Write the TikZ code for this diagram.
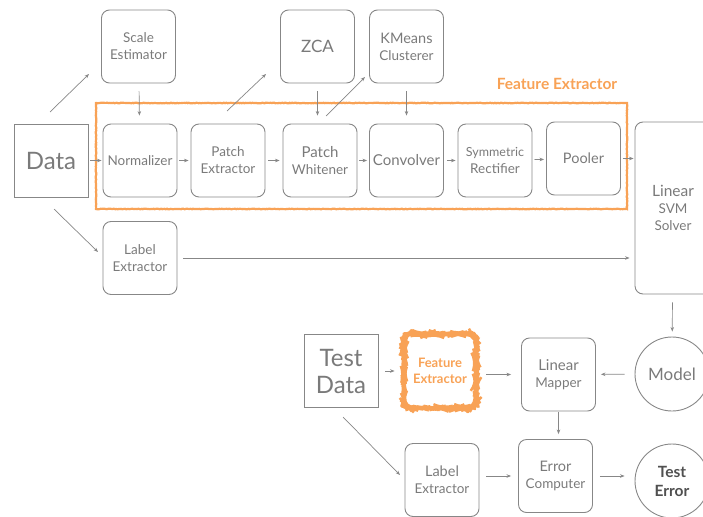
\documentclass[tikz,border=0pt]{standalone}
\usepackage{fontspec}
\setmainfont{Lato}
\usetikzlibrary{arrows.meta,decorations.pathmorphing}
\definecolor{boxline}{RGB}{135,135,135}
\definecolor{boxtext}{RGB}{122,122,122}
\definecolor{fxorange}{RGB}{248,162,86}
\tikzset{
  stage/.style={draw=boxline, line width=0.9pt, rounded corners=8pt, minimum width=74pt,
    minimum height=73pt, align=center, text=boxtext, font=\fontsize{13.5}{17}\selectfont, inner sep=1pt},
  source/.style={draw=boxline, line width=0.9pt, minimum width=74pt, minimum height=73pt,
    align=center, text=boxtext, font=\fontsize{24}{27}\selectfont, inner sep=1pt},
  result/.style={draw=boxline, line width=0.9pt, circle, minimum size=74pt, align=center,
    text=boxtext, font=\fontsize{17}{20}\selectfont, inner sep=1pt},
  flow/.style={draw=boxline, line width=0.7pt, -{Stealth[length=4.5pt,width=3.5pt]}},
  rough/.style={draw=fxorange, line width=2.2pt, decorate,
    decoration={random steps, segment length=1.2pt, amplitude=0.3pt}},
}
\pgfmathsetseed{7}
\begin{document}
\begin{tikzpicture}[x=1pt,y=-1pt]
\useasboundingbox (0,0) rectangle (703,516);

% training pipeline, top row
\node[stage] (scale) at (138.5,46.5) {Scale\\Estimator};
\node[stage] (zca) at (317.5,46.5) {\fontsize{17}{20}\selectfont ZCA};
\node[stage] (kmeans) at (406.5,46.5) {\fontsize{14.5}{18}\selectfont KMeans\\Clusterer};

% training pipeline, middle row
\node[source] (data) at (51,160.5) {Data};
\node[stage] (norm) at (140,160.5) {Normalizer};
\node[stage] (pext) at (228,160.5) {Patch\\Extractor};
\node[stage] (pwhite) at (320,160.5) {\fontsize{15}{18}\selectfont Patch\\Whitener};
\node[stage] (conv) at (406.5,160.5) {\fontsize{15}{18}\selectfont Convolver};
\node[stage] (symrect) at (495,160.5) {\fontsize{12.5}{16}\selectfont Symmetric\\Rectifier};
\node[stage] (pooler) at (583.5,158.5) {\fontsize{14.5}{17}\selectfont Pooler};
\node[stage, minimum width=76pt, minimum height=172pt] (svm) at (673,208)
  {\fontsize{15.5}{19}\selectfont Linear\\SVM\\Solver};
\node[stage] (label1) at (140,258) {Label\\Extractor};

% feature extractor group
\draw[rough] (96,103) rectangle (627,209);
\node[text=fxorange, font=\fontsize{15.5}{18}\selectfont\bfseries] (fxtitle) at (557,84) {Feature Extractor};

% free ends of the diagonal connectors
\coordinate (d1a) at (50,112);   \coordinate (d1b) at (89,74);
\coordinate (d2a) at (227,111);  \coordinate (d2b) at (266,74);
\coordinate (d3a) at (326,116);  \coordinate (d3b) at (365,77);
\coordinate (d4a) at (54,209);   \coordinate (d4b) at (98,252);
\coordinate (d5a) at (343,417);  \coordinate (d5b) at (400,475);

\draw[flow] (d1a) -- (d1b);
\draw[flow] (d2a) -- (d2b);
\draw[flow] (d3a) -- (d3b);
\draw[flow] (d4a) -- (d4b);

\draw[flow, shorten <=2pt, shorten >=1pt] (data) -- (norm);
\draw[flow, shorten <=8pt, shorten >=8pt] (scale) -- (norm);
\draw[flow, shorten <=8pt, shorten >=8pt] (zca.south) -- (zca.south |- pwhite.north);
\draw[flow, shorten <=8pt, shorten >=8pt] (kmeans) -- (conv);
\draw[flow, shorten <=2pt, shorten >=2pt] (norm) -- (pext);
\draw[flow, shorten <=3pt, shorten >=3pt] (pext) -- (pwhite);
\draw[flow, shorten <=2pt, shorten >=2pt] (pwhite) -- (conv);
\draw[flow, shorten <=3pt, shorten >=2pt] (conv) -- (symrect);
\draw[flow, shorten <=2pt, shorten >=2pt] (symrect) -- (pooler);
\draw[flow, shorten <=2pt, shorten >=1pt] (pooler.east) -- (pooler.east -| svm.west);
\draw[flow, shorten <=6pt, shorten >=5pt] (label1.east) -- (label1.east -| svm.west);

% test pipeline
\node[result] (model) at (672,374) {Model};
\node[source] (testdata) at (341,371) {Test\\Data};
\node[stage, draw=none, text=fxorange, font=\fontsize{13}{16}\selectfont\bfseries] (fe2) at (440,371) {Feature\\Extractor};
\draw[rough, line width=2.4pt, rounded corners=9pt] (404,334) rectangle (476,408);
\node[stage] (mapper) at (558.5,374.5) {\fontsize{15}{18}\selectfont Linear\\Mapper};
\node[stage] (label2) at (442,480) {\fontsize{14.5}{18}\selectfont Label\\Extractor};
\node[stage] (errcomp) at (555.5,476) {\fontsize{14.5}{18}\selectfont Error\\Computer};
\node[result, font=\fontsize{15.5}{19}\selectfont\bfseries, text={rgb,255:red,80;green,80;blue,80}] (testerr) at (672,481) {Test\\Error};

\draw[flow, shorten <=8pt, shorten >=5pt] (svm) -- (model);
\draw[flow, shorten <=7pt, shorten >=8pt] (testdata) -- (fe2);
\draw[flow, shorten <=9pt, shorten >=10pt] (fe2.east |- mapper.west) -- (mapper.west);
\draw[flow, shorten <=10pt, shorten >=5pt] (model) -- (mapper);
\draw[flow, shorten <=1pt, shorten >=5pt] (mapper) -- (mapper.south |- errcomp.north);
\draw[flow] (d5a) -- (d5b);
\draw[flow, shorten <=7pt, shorten >=7pt] (label2.east |- errcomp.east) -- (errcomp.west);
\draw[flow, shorten <=7pt, shorten >=10pt] (errcomp.east) -- (errcomp.east -| testerr.west);
\end{tikzpicture}
\end{document}
